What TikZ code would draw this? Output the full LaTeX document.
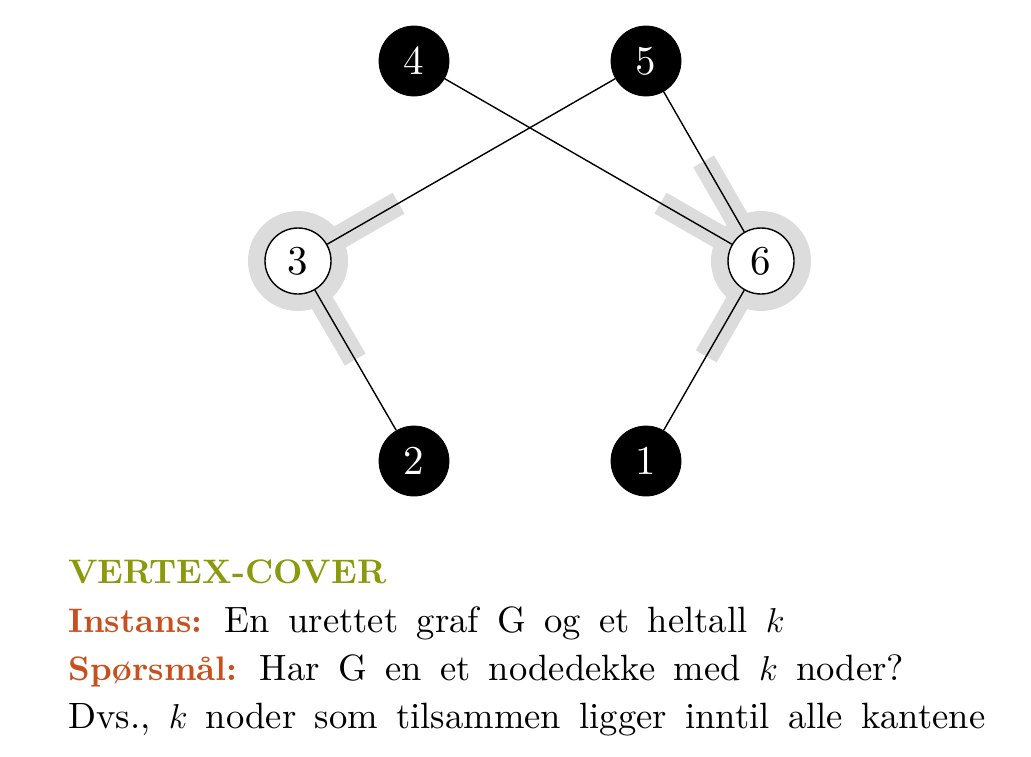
\documentclass[tikz,border=0pt]{standalone}
\usepackage{fontspec}
\setmainfont{lmroman10}[Extension=.otf, UprightFont=*-regular, BoldFont=*-bold, ItalicFont=*-italic, BoldItalicFont=*-bolditalic]
\usetikzlibrary{calc}
\definecolor{vcgreen}{RGB}{138,154,12}
\definecolor{vcorange}{RGB}{200,80,30}
\definecolor{halo}{RGB}{220,220,220}
\newcommand{\widespace}{\spaceskip=0.5em plus 0.1em\relax}
\newcommand{\lbl}[1]{{\fontsize{17}{21}\selectfont\bfseries #1}}
\begin{document}
\begin{tikzpicture}[x=0.5pt,y=-0.5pt,
  blacknode/.style={circle,fill=black,draw=black,minimum size=35pt,inner sep=0pt,text=white,font=\fontsize{20.5}{25}\selectfont},
  whitenode/.style={circle,fill=white,draw=black,line width=0.7pt,minimum size=33pt,inner sep=0pt,font=\fontsize{20.5}{25}\selectfont},
  edge/.style={draw=black,line width=0.7pt},
  strip/.style={draw=halo,line width=12pt},
  txt/.style={anchor=base west,inner sep=0pt,font=\fontsize{18.3}{22}\selectfont\widespace}]
\useasboundingbox (0,0) rectangle (1031,756);
% coordinates
\coordinate (p4) at (414,61);
\coordinate (p5) at (646,61);
\coordinate (p3) at (298,261);
\coordinate (p6) at (761,261);
\coordinate (p2) at (414,461);
\coordinate (p1) at (646,461);
% highlights
\fill[halo] (p3) circle (25pt);
\fill[halo] (p6) circle (25pt);
\draw[strip] (p3) -- ($(p3)!58pt!(p5)$);
\draw[strip] (p3) -- ($(p3)!57pt!(p2)$);
\draw[strip] (p6) -- ($(p6)!57.5pt!(p5)$);
\draw[strip] (p6) -- ($(p6)!58pt!(p4)$);
\draw[strip] (p6) -- ($(p6)!55pt!(p1)$);
% nodes
\node[blacknode] (n4) at (p4) {4};
\node[blacknode] (n5) at (p5) {5};
\node[whitenode] (n3) at (p3) {3};
\node[whitenode] (n6) at (p6) {6};
\node[blacknode] (n2) at (p2) {2};
\node[blacknode] (n1) at (p1) {1};
% edges
\draw[edge] (n4) -- (n6);
\draw[edge] (n5) -- (n3);
\draw[edge] (n5) -- (n6);
\draw[edge] (n3) -- (n2);
\draw[edge] (n6) -- (n1);
% text
\node[txt,text=vcgreen] (t1) at (68,583) {\lbl{VERTEX-COVER}};
\node[txt] (t2) at (68,632) {\textcolor{vcorange}{\lbl{Instans:}} En urettet graf G og et heltall $k$};
\node[txt] (t3) at (68,680) {\textcolor{vcorange}{\lbl{Spørsmål:}} Har G en et nodedekke med $k$ noder?};
\node[txt] (t4) at (68,728) {Dvs., $k$ noder som tilsammen ligger inntil alle kantene};
\end{tikzpicture}
\end{document}
